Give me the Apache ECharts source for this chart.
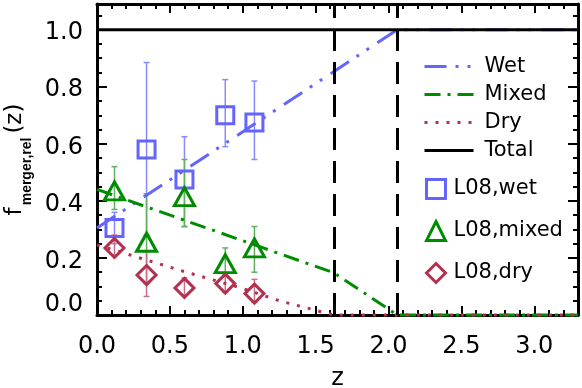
<!DOCTYPE html>
<html lang="en">
<head>
  <meta charset="UTF-8">
  <title>f merger rel</title>
  <style type="text/css">
    * { margin: 0; padding: 0; }
    html, body { width: 100%; height: 100%; overflow: hidden; background: #fff; }
    #main { width: 582px; height: 388px; }
  </style>
  <script type="text/javascript" src="https://cdn.jsdelivr.net/npm/echarts@6/dist/echarts.min.js"></script>
</head>
<body>
<div id="main"></div>
<script type="text/javascript">
  var FONT = 'DejaVu Sans';
  var BLUE = '#6464ff', GREEN = '#008c00', RED = '#b4304f';

  // model curves
  var wetZ = [0, 2.06, 3.3];
  var wetF = [0.305, 1.0, 1.0];
  var mixZ = [0, 1.625, 2.06, 3.3];
  var mixF = [0.44, 0.148, 0, 0];
  var dryZ = [0, 0.6, 1.0, 1.25, 1.625, 3.3];
  var dryF = [0.246, 0.152, 0.093, 0.05, 0, 0];
  var totZ = [0, 3.3];
  var totF = [1, 1];
  var zCut = [1.625, 2.06];

  // L08 points with error bars
  var zObs = [0.12, 0.34, 0.60, 0.88, 1.08];
  var wetObs = [0.305, 0.58, 0.475, 0.70, 0.675];
  var wetLo = [0.25, 0.28, 0.31, 0.59, 0.545];
  var wetHi = [0.36, 0.885, 0.625, 0.825, 0.82];
  var mixObs = [0.435, 0.255, 0.415, 0.18, 0.235];
  var mixLo = [0.37, 0.11, 0.31, 0.14, 0.15];
  var mixHi = [0.52, 0.425, 0.545, 0.235, 0.31];
  var dryObs = [0.235, 0.14, 0.095, 0.11, 0.075];
  var dryLo = [0.21, 0.065, 0.07, 0.08, 0.045];
  var dryHi = [0.28, 0.225, 0.13, 0.145, 0.125];

  var xTicks = [0, 0.5, 1, 1.5, 2, 2.5, 3];
  var yTicks = [0, 0.2, 0.4, 0.6, 0.8, 1.0];

  function pairs(xs, ys) {
    return xs.map(function (x, i) { return [x, ys[i]]; });
  }
  function triples(xs, lo, hi) {
    return xs.map(function (x, i) { return [x, lo[i], hi[i]]; });
  }

  function xAx(pos, step, len, labels) {
    return {
      type: 'value', position: pos, min: 0, max: 3.3, interval: step,
      axisLine: { show: step === 0.5, onZero: false, lineStyle: { color: '#000', width: 3 } },
      axisTick: { show: true, inside: true, length: len, lineStyle: { color: '#000', width: 2 } },
      axisLabel: {
        show: labels, margin: 20, color: '#000', fontSize: 24, fontFamily: FONT,
        formatter: function (v) { return xTicks.indexOf(v) >= 0 ? v.toFixed(1) : ''; }
      },
      splitLine: { show: false }
    };
  }
  function yAx(pos, step, len, labels) {
    return {
      type: 'value', position: pos, min: 0, max: 1.09, interval: step,
      axisLine: { show: step === 0.2, onZero: false, lineStyle: { color: '#000', width: 3 } },
      axisTick: { show: true, inside: true, length: len, lineStyle: { color: '#000', width: 2 } },
      axisLabel: {
        show: labels, margin: 14, color: '#000', fontSize: 24, fontFamily: FONT,
        formatter: function (v) {
          if (yTicks.indexOf(v) < 0) return '';
          return v === 0 ? '{z|0.0}' : '{n|' + v.toFixed(1) + '}';
        },
        rich: {
          z: { fontSize: 24, fontFamily: FONT, color: '#000', padding: [0, 0, 20, 0] },
          n: { fontSize: 24, fontFamily: FONT, color: '#000', padding: [7, 0, 0, 0] }
        }
      },
      splitLine: { show: false }
    };
  }

  function errBars(color) {
    return function (params, api) {
      var x = api.value(0);
      var lo = api.coord([x, api.value(1)]);
      var hi = api.coord([x, api.value(2)]);
      var w = 3;
      var st = { stroke: color, lineWidth: 1.5 };
      return {
        type: 'group',
        children: [
          { type: 'line', shape: { x1: lo[0], y1: lo[1], x2: hi[0], y2: hi[1] }, style: st },
          { type: 'line', shape: { x1: lo[0] - w, y1: lo[1], x2: lo[0] + w, y2: lo[1] }, style: st },
          { type: 'line', shape: { x1: hi[0] - w, y1: hi[1], x2: hi[0] + w, y2: hi[1] }, style: st }
        ]
      };
    };
  }

  var x0 = xAx('bottom', 0.5, 9, true);
  x0.name = 'z';
  x0.nameLocation = 'middle';
  x0.nameGap = 52;
  x0.nameTextStyle = { fontSize: 24, fontFamily: FONT, color: '#000' };

  var y0 = yAx('left', 0.2, 10, true);
  y0.name = '{f|f}{s|merger,rel}{f|(z)}';
  y0.nameLocation = 'middle';
  y0.nameGap = 62;
  y0.nameTextStyle = {
    rich: {
      f: { fontSize: 23, fontFamily: FONT, color: '#000', lineHeight: 23, verticalAlign: 'top' },
      s: { fontSize: 14, fontFamily: 'Liberation Sans', fontWeight: 'bold', color: '#000',
           lineHeight: 14, verticalAlign: 'top', padding: [16, 4, 0, 2] }
    }
  };

  var myChart = echarts.init(document.getElementById('main'));
  var option = {
    animation: false,
    backgroundColor: '#fff',
    grid: { left: 97, right: 4, top: 4, bottom: 73, outerBoundsMode: 'none', containLabel: false },
    xAxis: [x0, xAx('bottom', 0.1, 5, false), xAx('top', 0.5, 9, false), xAx('top', 0.1, 5, false)],
    yAxis: [y0, yAx('left', 0.05, 5, false), yAx('right', 0.2, 10, false), yAx('right', 0.05, 5, false)],
    legend: [
      {
        data: ['Wet', 'Mixed', 'Dry', 'Total'],
        orient: 'vertical', left: 423, top: 51, padding: 0,
        itemWidth: 49, itemHeight: 14, itemGap: -3,
        itemStyle: { opacity: 0 },
        lineStyle: { width: 3 },
        textStyle: { fontSize: 21, fontFamily: FONT, color: '#000', lineHeight: 18, padding: [0, 0, 13, 6] }
      },
      {
        data: ['L08,wet', 'L08,mixed', 'L08,dry'],
        orient: 'vertical', left: 425, top: 178, padding: 0,
        itemWidth: 19, itemHeight: 19, itemGap: 20,
        itemStyle: { borderWidth: 3, opacity: 1 },
        textStyle: { fontSize: 21, fontFamily: FONT, color: '#000', padding: [0, 0, 0, 3] }
      }
    ],
    series: [
      {
        name: 'Wet', type: 'line', data: pairs(wetZ, wetF), symbol: 'none', clip: false,
        lineStyle: { color: BLUE, width: 3, type: [22, 9, 3, 9, 3, 10] }, itemStyle: { color: BLUE }
      },
      {
        name: 'Mixed', type: 'line', data: pairs(mixZ, mixF), symbol: 'none', clip: false,
        lineStyle: { color: GREEN, width: 3, type: [16, 7, 3, 7] }, itemStyle: { color: GREEN }
      },
      {
        name: 'Dry', type: 'line', data: pairs(dryZ, dryF), symbol: 'none', clip: false,
        lineStyle: { color: RED, width: 3, type: [3, 8] }, itemStyle: { color: RED }
      },
      { type: 'custom', renderItem: errBars('#8a8aff'), data: triples(zObs, wetLo, wetHi), encode: { x: 0, y: [1, 2] }, z: 3 },
      { type: 'custom', renderItem: errBars('#5fb05f'), data: triples(zObs, mixLo, mixHi), encode: { x: 0, y: [1, 2] }, z: 3 },
      { type: 'custom', renderItem: errBars('#c8708a'), data: triples(zObs, dryLo, dryHi), encode: { x: 0, y: [1, 2] }, z: 3 },
      {
        name: 'L08,wet', type: 'scatter', data: pairs(zObs, wetObs), symbol: 'rect', symbolSize: 17, z: 4,
        itemStyle: { color: 'rgba(0,0,0,0)', borderColor: BLUE, borderWidth: 3, opacity: 1 }
      },
      {
        name: 'L08,mixed', type: 'scatter', data: pairs(zObs, mixObs), symbol: 'triangle', symbolSize: [20, 18], z: 4,
        itemStyle: { color: 'rgba(0,0,0,0)', borderColor: GREEN, borderWidth: 3, opacity: 1 }
      },
      {
        name: 'L08,dry', type: 'scatter', data: pairs(zObs, dryObs), symbol: 'diamond', symbolSize: [19, 19], z: 4,
        itemStyle: { color: 'rgba(0,0,0,0)', borderColor: RED, borderWidth: 3, opacity: 1 }
      },
      {
        name: 'Total', type: 'line', data: pairs(totZ, totF), symbol: 'none', z: 5,
        lineStyle: { color: '#000', width: 3 }, itemStyle: { color: '#000' },
        markLine: {
          silent: true, symbol: 'none', label: { show: false },
          lineStyle: { color: '#000', width: 3, type: [22, 11] },
          data: zCut.map(function (z) { return { xAxis: z }; })
        }
      }
    ]
  };
  myChart.setOption(option);
</script>
</body>
</html>
